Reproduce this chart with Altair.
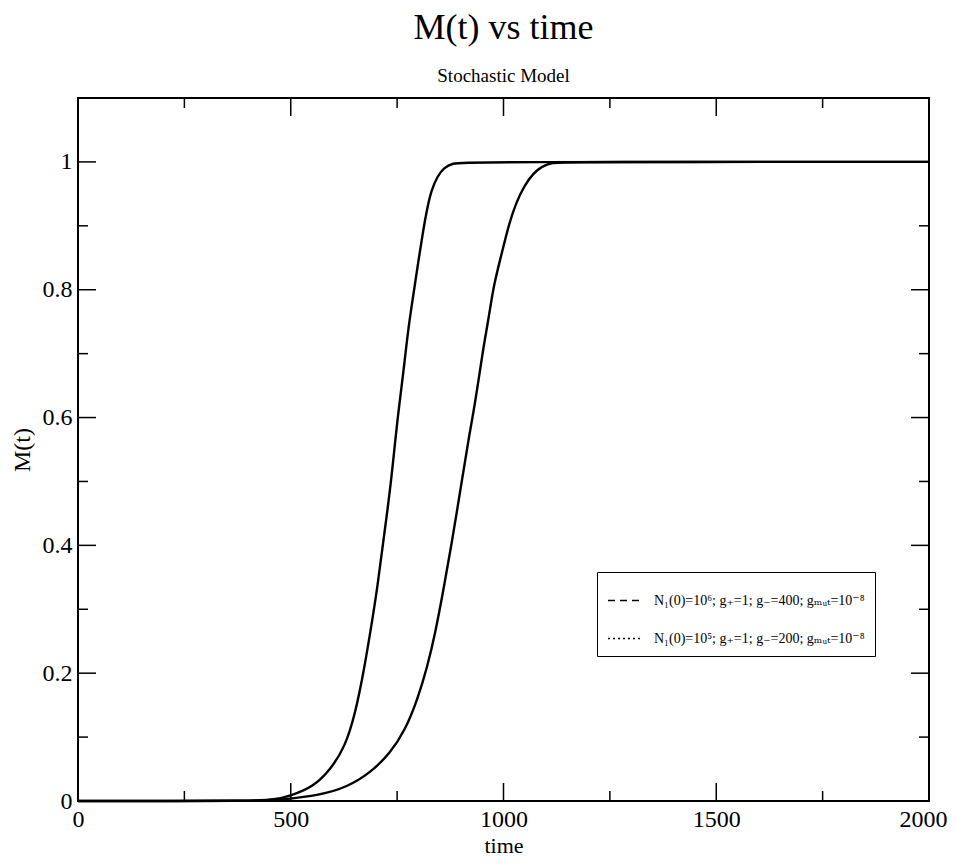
import altair as alt
import pandas as pd

# ---- data ----
series_names = [
    "N₁(0)=10⁶; g₊=1; g₋=400; gₘᵤₜ=10⁻⁸",
    "N₁(0)=10⁵; g₊=1; g₋=200; gₘᵤₜ=10⁻⁸",
]

t1 = [0, 420, 460, 499, 553, 593, 628, 652, 671, 687, 703, 715, 734, 746, 753,
      765, 776, 788, 800, 812, 820, 830, 845, 860, 880, 910, 2000]
m1 = [0, 0, 0.002, 0.008, 0.022, 0.049, 0.085, 0.138, 0.201, 0.264, 0.331, 0.394,
      0.488, 0.567, 0.609, 0.672, 0.739, 0.791, 0.845, 0.896, 0.925, 0.955, 0.978,
      0.991, 0.998, 1.0, 1.0]

t2 = [0, 440, 475, 569, 633, 687, 734, 769, 798, 821, 840, 859, 880, 899, 918,
      934, 951, 965, 977, 993, 1012, 1030, 1050, 1070, 1090, 1115, 1140, 2000]
m2 = [0, 0, 0.002, 0.009, 0.022, 0.044, 0.075, 0.111, 0.159, 0.21, 0.264, 0.331,
      0.41, 0.488, 0.567, 0.625, 0.703, 0.755, 0.807, 0.849, 0.901, 0.937, 0.964,
      0.982, 0.993, 0.999, 1.0, 1.0]

x_major = [0, 500, 1000, 1500, 2000]
x_minor = [250, 750, 1250, 1750]
y_major = [0, 0.2, 0.4, 0.6, 0.8, 1.0]
y_minor = [0.1, 0.3, 0.5, 0.7, 0.9]

X_DOMAIN = [0, 2000]
Y_DOMAIN = [0, 1.1]

W, H = 851, 703
FONT = "Liberation Serif, Times New Roman, DejaVu Serif, serif"

rows = []
for i, (ts, ms) in enumerate([(t1, m1), (t2, m2)]):
    for t, m in zip(ts, ms):
        rows.append({"time": t, "M": m, "series": series_names[i], "order": i})
df = pd.DataFrame(rows)

xscale = alt.Scale(domain=X_DOMAIN, nice=False, zero=False)
yscale = alt.Scale(domain=Y_DOMAIN, nice=False, zero=False)

x_enc = alt.X("time:Q", scale=xscale,
              axis=alt.Axis(values=x_major, ticks=False, domain=False, grid=False,
                            format="d",
                            labelFont=FONT, labelFontSize=24, labelColor="black",
                            labelPadding=6, labelFlush=False,
                            labelAlign={"condition": {"test": "datum.value == 2000",
                                                      "value": "right"},
                                        "value": "center"},
                            labelOffset={"condition": {"test": "datum.value == 2000",
                                                       "value": 18},
                                         "value": 0},
                            title="time", titleFont=FONT, titleFontSize=22,
                            titleFontWeight="normal", titleColor="black",
                            titlePadding=4))
y_enc = alt.Y("M:Q", scale=yscale,
              axis=alt.Axis(values=y_major, ticks=False, domain=False, grid=False,
                            format="~g",
                            labelFont=FONT, labelFontSize=24, labelColor="black",
                            labelPadding=6, labelFlush=False,
                            title="M(t)", titleFont=FONT, titleFontSize=24,
                            titleFontWeight="normal", titleColor="black",
                            titlePadding=8))

lines = alt.Chart(df).mark_line(color="black", strokeWidth=2.4,
                                interpolate="basis").encode(
    x=x_enc, y=y_enc, detail="series:N"
)

legend_layer = alt.Chart(df).mark_line(opacity=0).encode(
    x=alt.X("time:Q", scale=xscale),
    y=alt.Y("M:Q", scale=yscale),
    strokeDash=alt.StrokeDash(
        "series:N",
        scale=alt.Scale(domain=series_names, range=[[7, 5], [2, 3]]),
        legend=alt.Legend(
            title=None, orient="none", legendX=519, legendY=474,
            symbolType="stroke", symbolStrokeColor="black", symbolOpacity=1,
            symbolStrokeWidth=1.5, symbolSize=1225,
            labelFont=FONT, labelFontSize=14, labelColor="black",
            labelLimit=400, rowPadding=12, padding=10, labelOffset=10,
            strokeColor="black", fillColor="white",
        ),
    ),
)

# tick marks drawn inward on all four sides
xt_major = pd.DataFrame({"v": x_major})
xt_minor = pd.DataFrame({"v": x_minor})
yt_major = pd.DataFrame({"v": y_major})
yt_minor = pd.DataFrame({"v": y_minor})

def xticks(d, length):
    bottom = alt.Chart(d).mark_rule(color="black", strokeWidth=1.5).encode(
        x=alt.X("v:Q", scale=xscale), y=alt.value(H), y2=alt.value(H - length))
    top = alt.Chart(d).mark_rule(color="black", strokeWidth=1.5).encode(
        x=alt.X("v:Q", scale=xscale), y=alt.value(0), y2=alt.value(length))
    return bottom + top

def yticks(d, length):
    left = alt.Chart(d).mark_rule(color="black", strokeWidth=1.5).encode(
        y=alt.Y("v:Q", scale=yscale), x=alt.value(0), x2=alt.value(length))
    right = alt.Chart(d).mark_rule(color="black", strokeWidth=1.5).encode(
        y=alt.Y("v:Q", scale=yscale), x=alt.value(W), x2=alt.value(W - length))
    return left + right

chart = alt.layer(
    legend_layer,
    xticks(xt_major, 18), xticks(xt_minor, 10),
    yticks(yt_major, 18), yticks(yt_minor, 10),
    lines,
).properties(
    width=W, height=H,
    background="white",
    title=alt.TitleParams(
        text="M(t) vs time", subtitle="Stochastic Model",
        anchor="middle", frame="group",
        font=FONT, fontSize=36, fontWeight="normal", color="black",
        subtitleFont=FONT, subtitleFontSize=19, subtitleColor="black",
        subtitlePadding=20, offset=10,
    ),
    autosize=alt.AutoSizeParams(type="none"),
    padding={"left": 70, "top": 90, "right": 19, "bottom": 59},
).configure_view(
    stroke="black", strokeWidth=2
)

chart.save("out.html", embed_options={"renderer": "svg", "actions": False})
